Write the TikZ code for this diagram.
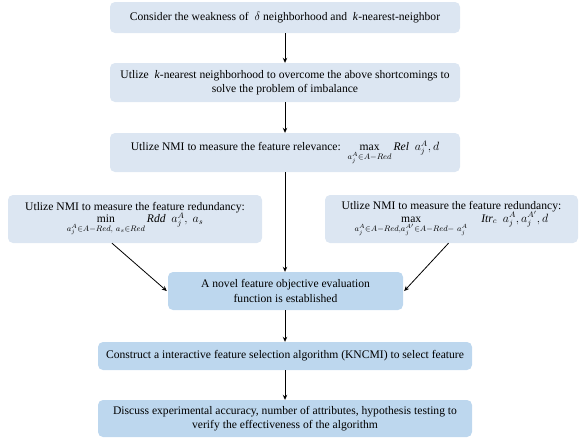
\documentclass[tikz,border=0pt]{standalone}
\usepackage{fontspec}
\setmainfont{Liberation Serif}
\usetikzlibrary{arrows.meta}
\definecolor{lightbox}{HTML}{DCE6F2}
\definecolor{darkbox}{HTML}{BDD7EE}
\begin{document}
\begin{tikzpicture}[x=1pt,y=-1pt,
 box/.style={rounded corners=5pt, inner sep=0pt, align=center, font=\fontsize{11.6}{14.5}\selectfont, anchor=center},
 lbox/.style={box, fill=lightbox},
 dbox/.style={box, fill=darkbox},
 arr/.style={-{Stealth[length=5pt,width=4.5pt]}, line width=0.8pt}]
\useasboundingbox (0,0) rectangle (583,440);
\node[lbox, minimum width=350pt, minimum height=31pt] (b1) at (285,17.5) {Consider the weakness of \ $\delta$ neighborhood and \ \textit{k}-nearest-neighbor};
\node[lbox, minimum width=350pt, minimum height=39pt] (b2) at (285,82.5) {Utlize \ \textit{k}-nearest neighborhood to overcome the above shortcomings to\\ solve the problem of imbalance};
\node[lbox, minimum width=350pt, minimum height=39pt] (b3) at (285,152.5) {Utlize NMI to measure the feature relevance: \ $\max\limits_{a_j^A\in A-Red}\textit{Rel}\ \ a_j^A, d$};
\node[lbox, minimum width=254pt, minimum height=48pt] (b4) at (135,219) {Utlize NMI to measure the feature redundancy:\\[-2pt] $\min\limits_{a_j^A\in A-Red,\ a_s\in Red}\textit{Rdd}\ \ a_j^A,\ a_s$};
\node[lbox, minimum width=253pt, minimum height=48pt] (b5) at (451.5,219) {Utlize NMI to measure the feature redundancy:\\[-2pt] $\max\limits_{a_j^A\in A-Red,a_j^{A'}\in A-Red-\ a_j^A}\quad\textit{Itr}_c\ \ a_j^A, a_j^{A'}, d$};
\node[dbox, minimum width=235pt, minimum height=38pt] (b6) at (285.5,291) {A novel feature objective evaluation\\ function is established};
\node[dbox, minimum width=374pt, minimum height=28pt] (b7) at (285,356) {Construct a interactive feature selection algorithm (KNCMI) to select feature};
\node[dbox, minimum width=374pt, minimum height=37pt] (b8) at (285,418.5) {Discuss experimental accuracy, number of attributes, hypothesis testing to\\ verify the effectiveness of the algorithm};
\draw[arr] (b1) -- (b2);
\draw[arr] (b2) -- (b3);
\draw[arr] (b3.south) -- (b3.south |- b6.north);
\draw[arr] ([xshift=-23pt]b4.south) -- ([xshift=-1pt]b6.west);
\draw[arr] ([xshift=-3pt]b5.south) -- ([xshift=1pt]b6.east);
\draw[arr] (b6.south -| b7.north) -- (b7.north);
\draw[arr] (b7) -- (b8);
\end{tikzpicture}
\end{document}
